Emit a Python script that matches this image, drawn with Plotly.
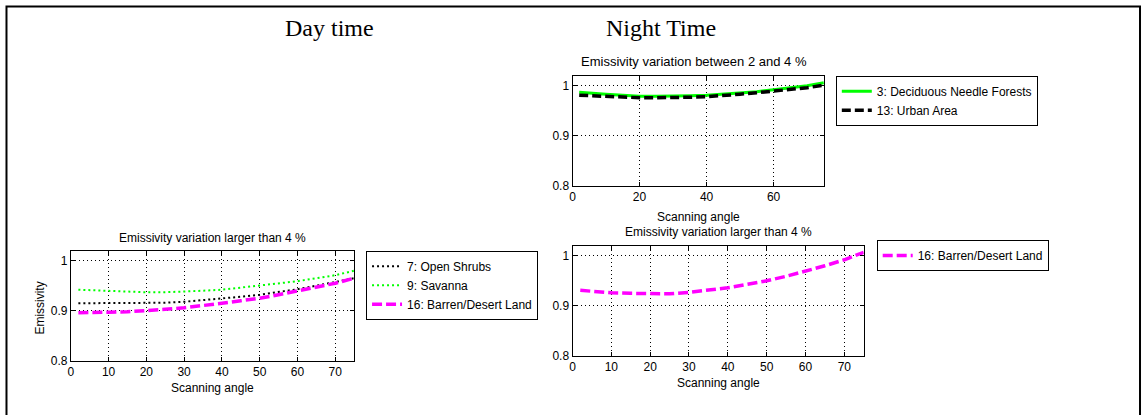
import plotly.graph_objects as go

W, H = 1143, 415

# Scanning angles (degrees)
angle = [2, 5, 10, 15, 20, 25, 30, 35, 40, 45, 50, 55, 60, 65, 70, 75]

# Day time, emissivity variation larger than 4 %
day_open_shrubs = [0.915, 0.915, 0.915, 0.915, 0.915, 0.916, 0.918, 0.921, 0.924, 0.928,
                   0.932, 0.937, 0.943, 0.950, 0.957, 0.965]
day_savanna = [0.942, 0.941, 0.939, 0.938, 0.937, 0.937, 0.938, 0.940, 0.942, 0.946,
               0.950, 0.954, 0.959, 0.965, 0.971, 0.980]
day_barren = [0.896, 0.896, 0.897, 0.898, 0.900, 0.903, 0.906, 0.910, 0.915, 0.920,
              0.925, 0.932, 0.940, 0.947, 0.955, 0.965]

# Night time, emissivity variation between 2 and 4 %
night_deciduous = [0.987, 0.986, 0.983, 0.981, 0.979, 0.979, 0.979, 0.980, 0.981, 0.983,
                   0.985, 0.988, 0.992, 0.996, 1.000, 1.006]
night_urban = [0.981, 0.980, 0.978, 0.977, 0.976, 0.976, 0.976, 0.977, 0.978, 0.980,
               0.983, 0.986, 0.989, 0.992, 0.996, 1.001]

# Night time, emissivity variation larger than 4 %
night_barren = [0.931, 0.929, 0.926, 0.925, 0.924, 0.924, 0.927, 0.931, 0.936, 0.943,
                0.950, 0.959, 0.969, 0.980, 0.992, 1.007]

MAGENTA = "#ff00ff"
GREEN = "#00ff00"
BLACK = "#000000"
FONT = "Liberation Sans, Arial, sans-serif"


def px_x(p):
    return p / W


def px_y(p):
    return 1 - p / H


fig = go.Figure()

# Day panel
fig.add_trace(go.Scatter(x=angle, y=day_open_shrubs, mode="lines", name="7: Open Shrubs",
                         line=dict(color=BLACK, dash="2px,3px", width=2), xaxis="x", yaxis="y",
                         legend="legend"))
fig.add_trace(go.Scatter(x=angle, y=day_savanna, mode="lines", name="9: Savanna",
                         line=dict(color=GREEN, dash="2px,3px", width=2), xaxis="x", yaxis="y",
                         legend="legend"))
fig.add_trace(go.Scatter(x=angle, y=day_barren, mode="lines", name="16: Barren/Desert Land",
                         line=dict(color=MAGENTA, dash="10px,4px", width=3.5), xaxis="x", yaxis="y",
                         legend="legend"))

# Night, top panel
fig.add_trace(go.Scatter(x=angle, y=night_deciduous, mode="lines", name="3: Deciduous Needle Forests",
                         line=dict(color=GREEN, width=3), xaxis="x2", yaxis="y2",
                         legend="legend2"))
fig.add_trace(go.Scatter(x=angle, y=night_urban, mode="lines", name="13: Urban Area",
                         line=dict(color=BLACK, dash="9px,4px", width=3.5), xaxis="x2", yaxis="y2",
                         legend="legend2"))

# Night, bottom panel
fig.add_trace(go.Scatter(x=angle, y=night_barren, mode="lines", name="16: Barren/Desert Land",
                         line=dict(color=MAGENTA, dash="10px,4px", width=3.5), xaxis="x3", yaxis="y3",
                         legend="legend3"))

axis_common = dict(
    showline=True, linecolor=BLACK, linewidth=1, mirror="allticks",
    ticks="inside", ticklen=4, tickcolor=BLACK,
    showgrid=True, gridcolor=BLACK, griddash="1px,3px", gridwidth=1,
    zeroline=False, tickfont=dict(family=FONT, size=12, color=BLACK),
)

y_ticks = dict(range=[0.8, 1.02], tickvals=[0.8, 0.9, 1.0], ticktext=["0.8", "0.9", "1"])

legend_common = dict(xanchor="left", yanchor="top", bordercolor=BLACK, borderwidth=1,
                     bgcolor="white", itemwidth=30, font=dict(family=FONT, size=12))

fig.update_layout(
    width=W, height=H, margin=dict(l=0, r=0, t=0, b=0),
    paper_bgcolor="white", plot_bgcolor="white",
    font=dict(family=FONT, size=12, color=BLACK),
    xaxis=dict(domain=[px_x(68), px_x(352)], range=[0, 75], dtick=10, anchor="y", **axis_common),
    yaxis=dict(domain=[px_y(367), px_y(255)], anchor="x", **y_ticks, **axis_common),
    xaxis2=dict(domain=[px_x(571), px_x(823)], range=[0, 75], dtick=20, anchor="y2", **axis_common),
    yaxis2=dict(domain=[px_y(189), px_y(77)], anchor="x2", **y_ticks, **axis_common),
    xaxis3=dict(domain=[px_x(571), px_x(863)], range=[0, 75], dtick=10, anchor="y3", **axis_common),
    yaxis3=dict(domain=[px_y(362), px_y(250)], anchor="x3", **y_ticks, **axis_common),
    legend=dict(x=px_x(364), y=px_y(255), **legend_common),
    legend2=dict(x=px_x(835), y=px_y(77), **legend_common),
    legend3=dict(x=px_x(876), y=px_y(244), **legend_common),
    showlegend=True,
)


def text(x, y, s, size=12, family=FONT, angle=0):
    fig.add_annotation(x=px_x(x), y=px_y(y), xref="paper", yref="paper", text=s,
                       showarrow=False, xanchor="center", yanchor="middle", textangle=angle,
                       font=dict(family=family, size=size, color=BLACK))


# Panel titles and axis labels
text(210, 242, "Emissivity variation larger than 4 %", size=12)
text(210, 395, "Scanning angle", size=12)
text(37, 313, "Emissivity", size=12, angle=-90)
text(693, 63, "Emissivity variation between 2 and 4 %", size=13)
text(697, 221, "Scanning angle", size=12)
text(717, 236, "Emissivity variation larger than 4 %", size=12)
text(717, 390, "Scanning angle", size=12)

# Section headings
SERIF = "Liberation Serif, Times New Roman, serif"
text(327, 28, "Day time", size=24, family=SERIF)
text(660, 28, "Night Time", size=24, family=SERIF)

# Outer frame
fig.add_shape(type="rect", xref="paper", yref="paper",
              x0=px_x(3.5), x1=px_x(1140), y0=px_y(430), y1=px_y(6.5),
              line=dict(color=BLACK, width=2), fillcolor="rgba(0,0,0,0)", layer="above")

fig.write_html("out.html")
